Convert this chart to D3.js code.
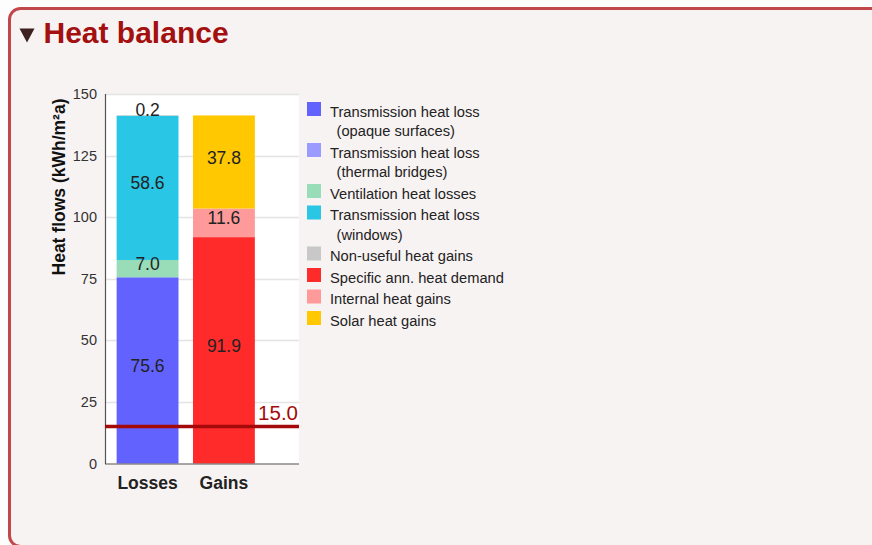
<!DOCTYPE html>
<html>
<head>
<meta charset="utf-8">
<script src="https://cdn.jsdelivr.net/npm/d3@7"></script>
<style>
  html, body { margin: 0; padding: 0; background: #fdfdfd; }
  svg { display: block; font-family: "Liberation Sans", Arial, Helvetica, sans-serif; }
</style>
</head>
<body>
<svg id="chart" width="872" height="545"></svg>
<script>
// ---- data ----
const categories = ["Losses", "Gains"];
const seriesNames = [
  ["Transmission heat loss", "(opaque surfaces)"],
  ["Transmission heat loss", "(thermal bridges)"],
  ["Ventilation heat losses"],
  ["Transmission heat loss", "(windows)"],
  ["Non-useful heat gains"],
  ["Specific ann. heat demand"],
  ["Internal heat gains"],
  ["Solar heat gains"]
];
const seriesColors = ["#6262ff", "#9b9bff", "#98dcb8", "#2ac6e6", "#c8c8c8", "#ff2b2b", "#ff9a9a", "#ffc800"];
// values per series: [Losses, Gains]
const lossesValues = [75.6, 0, 7.0, 58.6, 0.2, 0, 0, 0];
const gainsValues  = [0, 0, 0, 0, 0, 91.9, 11.6, 37.8];
const yTicks = [0, 25, 50, 75, 100, 125, 150];
const limitValue = 15.0;
const yTitle = "Heat flows (kWh/m²a)";
const chartTitle = "Heat balance";

// ---- layout ----
const svg = d3.select("#chart");
const plot = { left: 105, right: 299, top: 94, bottom: 463.5 };

// panel
svg.append("rect")
  .attr("x", 9.5).attr("y", 8.5).attr("width", 900).attr("height", 538)
  .attr("rx", 11).attr("ry", 11)
  .attr("fill", "#f8f3f3").attr("stroke", "#c2474b").attr("stroke-width", 3);

// title
svg.append("path")
  .attr("d", "M19.5,28.5 L34.5,28.5 L27,42.5 Z")
  .attr("fill", "#3d1f1f");
svg.append("text")
  .attr("x", 43.5).attr("y", 43)
  .attr("font-size", 30).attr("font-weight", "bold")
  .attr("fill", "#a3100f")
  .text(chartTitle);

// scales
const y = d3.scaleLinear().domain([0, 150]).range([plot.bottom, plot.top]);
const x = d3.scaleBand().domain(categories)
  .range([109, 262.5]).paddingInner(0.19).paddingOuter(0.1);

// plot background
svg.append("rect")
  .attr("x", plot.left).attr("y", plot.top)
  .attr("width", plot.right - plot.left).attr("height", plot.bottom - plot.top)
  .attr("fill", "#ffffff");

// gridlines
svg.append("g").selectAll("line").data(yTicks.filter(t => t > 0)).join("line")
  .attr("x1", plot.left).attr("x2", plot.right)
  .attr("y1", d => Math.round(y(d)) + 0.5).attr("y2", d => Math.round(y(d)) + 0.5)
  .attr("stroke", "#e4e4e4").attr("stroke-width", 1.5);

// stacked data
const rows = categories.map((c, i) => {
  const vals = i === 0 ? lossesValues : gainsValues;
  const o = { cat: c };
  seriesNames.forEach((s, k) => { o["s" + k] = vals[k]; });
  return o;
});
const keys = seriesNames.map((s, k) => "s" + k);
const stacked = d3.stack().keys(keys)(rows);

const segs = [];
stacked.forEach((layer, k) => {
  layer.forEach(d => {
    const v = d[1] - d[0];
    if (v > 0) segs.push({ k, cat: d.data.cat, y0: d[0], y1: d[1], v });
  });
});

svg.append("g").selectAll("rect").data(segs).join("rect")
  .attr("x", d => x(d.cat))
  .attr("width", x.bandwidth())
  .attr("y", d => y(d.y1))
  .attr("height", d => y(d.y0) - y(d.y1))
  .attr("fill", d => seriesColors[d.k]);

// value labels
svg.append("g").selectAll("text").data(segs).join("text")
  .attr("x", d => x(d.cat) + x.bandwidth() / 2)
  .attr("y", d => {
    const h = y(d.y0) - y(d.y1);
    if (h < 8) return y(d.y1) + 0.5;
    return (y(d.y0) + y(d.y1)) / 2 - 4.5;
  })
  .attr("dy", d => (y(d.y0) - y(d.y1)) < 8 ? "0" : "0.35em")
  .attr("text-anchor", "middle")
  .attr("font-size", 17.5)
  .attr("fill", "#222")
  .text(d => d.v.toFixed(1));

// axes lines
svg.append("line")
  .attr("x1", plot.left + 0.5).attr("x2", plot.left + 0.5)
  .attr("y1", plot.top).attr("y2", plot.bottom + 0.5)
  .attr("stroke", "#555").attr("stroke-width", 1.2);
svg.append("line")
  .attr("x1", plot.left).attr("x2", plot.right)
  .attr("y1", plot.bottom + 0.5).attr("y2", plot.bottom + 0.5)
  .attr("stroke", "#555").attr("stroke-width", 1.2);

// y tick labels
svg.append("g").selectAll("text").data(yTicks).join("text")
  .attr("x", 97).attr("y", d => y(d)).attr("dy", "0.35em")
  .attr("text-anchor", "end").attr("font-size", 14.5).attr("fill", "#333")
  .text(d => d);

// x labels
svg.append("g").selectAll("text").data(categories).join("text")
  .attr("x", d => x(d) + x.bandwidth() / 2).attr("y", 482.5).attr("dy", "0.35em")
  .attr("text-anchor", "middle").attr("font-size", 17.5).attr("font-weight", "bold")
  .attr("fill", "#222")
  .text(d => d);

// y title
svg.append("text")
  .attr("transform", "translate(65,187) rotate(-90)")
  .attr("text-anchor", "middle").attr("font-size", 17.5).attr("font-weight", "bold")
  .attr("fill", "#111")
  .text(yTitle);

// limit line
svg.append("line")
  .attr("x1", plot.left).attr("x2", plot.right)
  .attr("y1", y(limitValue)).attr("y2", y(limitValue))
  .attr("stroke", "#a50a0a").attr("stroke-width", 3.5);
svg.append("text")
  .attr("x", 298).attr("y", y(limitValue) - 6.5)
  .attr("text-anchor", "end").attr("font-size", 20.5).attr("fill", "#a50a0a")
  .text(limitValue.toFixed(1));

// legend
const legend = svg.append("g");
let ly = 111.5;
seriesNames.forEach((lines, k) => {
  legend.append("rect")
    .attr("x", 307).attr("y", ly - 9.5).attr("width", 14).attr("height", 14)
    .attr("fill", seriesColors[k]);
  lines.forEach((t, j) => {
    legend.append("text")
      .attr("x", j === 0 ? 330 : 336.5).attr("y", ly + j * 19.5).attr("dy", "0.35em")
      .attr("font-size", 14.7).attr("fill", "#222")
      .text(t);
  });
  ly += 19.5 * (lines.length - 1) + 21.5;
});
</script>
</body>
</html>
